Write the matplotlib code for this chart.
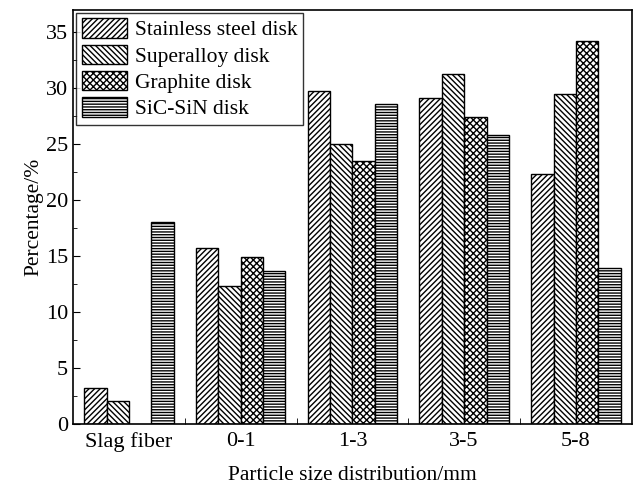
import matplotlib
matplotlib.use('Agg')
import matplotlib.pyplot as plt
import numpy as np
from matplotlib.ticker import MultipleLocator, FixedLocator

plt.rcParams['font.family'] = ['Liberation Serif', 'DejaVu Serif']
plt.rcParams['hatch.linewidth'] = 1.0

categories = ['Slag fiber', '0-1', '1-3', '3-5', '5-8']
stainless = [3.2, 15.7, 29.7, 29.1, 22.3]
superalloy = [2.0, 12.3, 25.0, 31.3, 29.5]
graphite = [0.0, 14.9, 23.5, 27.4, 34.2]
sic_sin = [18.0, 13.6, 28.6, 25.8, 13.9]

series = [
    ('Stainless steel disk', stainless, '//////'),
    ('Superalloy disk', superalloy, '\\\\\\\\\\\\'),
    ('Graphite disk', graphite, 'xxxxx'),
    ('SiC-SiN disk', sic_sin, '------'),
]

fig = plt.figure(figsize=(6.35, 4.88), dpi=100)
ax = fig.add_axes([0.115, 0.132, 0.88, 0.848])

x = np.arange(len(categories))
w = 0.2
for i, (name, vals, hatch) in enumerate(series):
    vals = np.array(vals)
    mask = vals > 0
    ax.bar(x[mask] + (i - 1.5) * w, vals[mask], w, color='white', edgecolor='black',
           hatch=hatch, linewidth=1.0, label=name)

ax.set_xlim(-0.5, 4.5)
ax.set_ylim(0, 37)
ax.set_xticks(x)
ax.set_xticklabels(categories)
ax.xaxis.set_minor_locator(FixedLocator(x[:-1] + 0.5))
ax.yaxis.set_major_locator(MultipleLocator(5))
ax.yaxis.set_minor_locator(MultipleLocator(2.5))
ax.tick_params(axis='both', which='both', direction='in', labelsize=16)
ax.tick_params(axis='y', which='major', length=5)
ax.tick_params(axis='y', which='minor', length=3)
ax.tick_params(axis='x', which='major', length=0, pad=6)
ax.tick_params(axis='x', which='minor', length=4)
for s in ax.spines.values():
    s.set_linewidth(1.2)

ax.set_xlabel('Particle size distribution/mm', fontsize=15.5, labelpad=10)
ax.set_ylabel('Percentage/%', fontsize=15.5, labelpad=2)

leg = ax.legend(loc='upper left', fontsize=15.5, frameon=True, fancybox=False,
                edgecolor='black', handlelength=2.1, handleheight=1.0,
                borderpad=0.25, labelspacing=0.2, handletextpad=0.4,
                borderaxespad=0.15)
leg.get_frame().set_linewidth(1.0)

fig.savefig('out.png', dpi=100)
